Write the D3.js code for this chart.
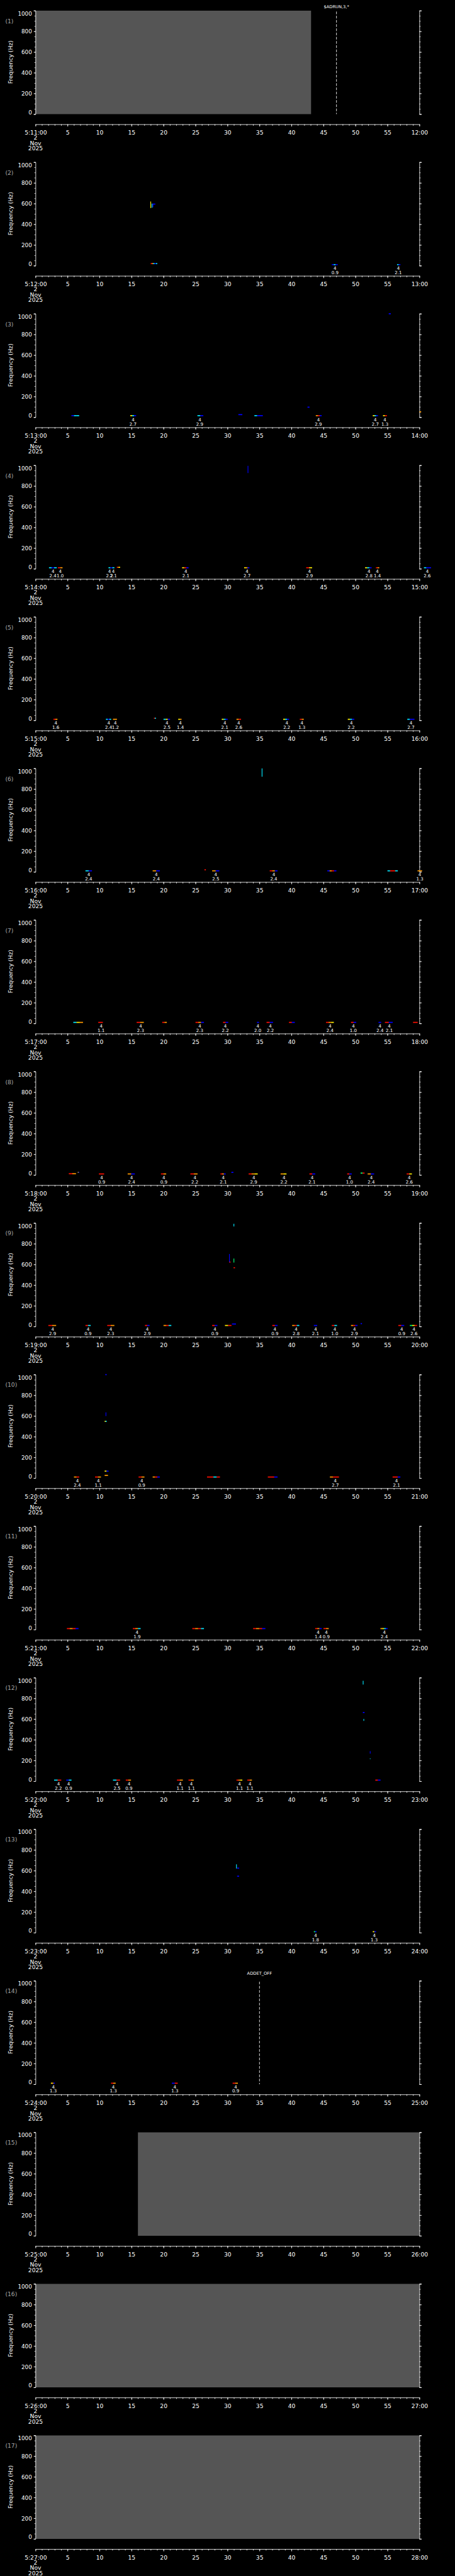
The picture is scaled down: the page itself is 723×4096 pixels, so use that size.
<!DOCTYPE html>
<html>
<head>
<meta charset="utf-8">
<script src="https://cdn.jsdelivr.net/npm/d3@7"></script>
<style>
  body { margin: 0; background: #000; }
  svg { display: block; }
  text { font-family: "DejaVu Sans", sans-serif; fill: #fff; }
</style>
</head>
<body>
<div id="chart"></div>
<script>
// ---- data ----
const startLabels = ["5:11:00","5:12:00","5:13:00","5:14:00","5:15:00","5:16:00","5:17:00","5:18:00","5:19:00",
                     "5:20:00","5:21:00","5:22:00","5:23:00","5:24:00","5:25:00","5:26:00","5:27:00"];
const endLabels = ["12:00","13:00","14:00","15:00","16:00","17:00","18:00","19:00","20:00",
                   "21:00","22:00","23:00","24:00","25:00","26:00","27:00","28:00"];
const xTicks = [0,5,10,15,20,25,30,35,40,45,50,55,60];
const midLabels = ["5","10","15","20","25","30","35","40","45","50","55"];
const yTicks = [0,200,400,600,800,1000];
const dateLines = ["2","Nov","2025"];

// no-data (gray) blocks: panel, from s, to s
const grayBlocks = [[1,0,43.06],[15,16,60],[16,0,60],[17,0,60]];
// event markers: panel, time s, label
const markers = [[1,47.03,"$ADRUN,3,*"],[14,35.0,"ADDET_OFF"]];

// annotations under the detections: panel, time s, top, bottom
const notes = [
  [2,46.8,"4","0.9"],[2,56.7,"4","2.1"],
  [3,15.24,"4","2.7"],[3,25.67,"4","2.9"],[3,44.2,"4","2.9"],[3,53.1,"4","2.7"],[3,54.6,"4","1.3"],
  [4,2.72,"4","2.4"],[4,3.85,"4","1.0"],[4,11.56,"4","2.2"],[4,12.15,"4","2.1"],[4,23.49,"4","2.1"],
  [4,33.06,"4","2.7"],[4,42.81,"4","2.9"],[4,52.11,"4","2.8"],[4,53.42,"4","1.4"],[4,61.22,"4","2.6"],
  [5,3.17,"4","1.6"],[5,11.43,"4","2.4"],[5,12.47,"4","1.2"],[5,20.54,"4","2.5"],[5,22.63,"4","1.4"],
  [5,29.57,"4","2.1"],[5,31.75,"4","2.6"],[5,39.27,"4","2.2"],[5,41.63,"4","1.3"],[5,49.34,"4","2.2"],[5,58.68,"4","2.7"],
  [6,8.30,"4","2.4"],[6,18.87,"4","2.4"],[6,28.16,"4","2.5"],[6,37.23,"4","2.4"],[6,60.05,"4","1.3"],
  [7,10.25,"4","1.1"],[7,16.42,"4","2.3"],[7,25.67,"4","2.3"],[7,29.66,"4","2.2"],[7,34.74,"4","2.0"],
  [7,36.69,"4","2.2"],[7,46.03,"4","2.4"],[7,49.66,"4","1.0"],[7,53.83,"4","2.4"],[7,55.28,"4","2.1"],
  [8,10.34,"4","0.9"],[8,15.01,"4","2.4"],[8,20.05,"4","0.9"],[8,24.90,"4","2.2"],[8,29.34,"4","2.1"],
  [8,34.10,"4","2.9"],[8,38.82,"4","2.2"],[8,43.22,"4","2.1"],[8,49.07,"4","1.0"],[8,52.47,"4","2.4"],[8,58.41,"4","2.6"],
  [9,2.68,"4","2.9"],[9,8.21,"4","0.9"],[9,11.75,"4","2.3"],[9,17.46,"4","2.9"],[9,28.03,"4","0.9"],
  [9,37.41,"4","0.9"],[9,40.73,"4","2.8"],[9,43.76,"4","2.1"],[9,46.76,"4","1.0"],[9,49.84,"4","2.9"],
  [9,57.23,"4","0.9"],[9,59.14,"4","2.6"],
  [10,6.53,"4","2.4"],[10,9.80,"4","1.1"],[10,16.60,"4","0.9"],[10,46.85,"4","2.7"],[10,56.42,"4","2.1"],
  [11,15.87,"4","1.9"],[11,44.17,"4","1.4"],[11,45.44,"4","0.9"],[11,54.51,"4","2.4"],
  [12,3.58,"4","2.2"],[12,5.17,"4","0.9"],[12,12.74,"4","2.5"],[12,14.60,"4","0.9"],
  [12,22.59,"4","1.1"],[12,24.35,"4","1.1"],[12,31.88,"4","1.1"],[12,33.51,"4","1.1"],
  [13,43.76,"4","1.8"],[13,52.93,"4","1.3"],
  [14,2.77,"4","1.3"],[14,12.15,"4","1.3"],[14,21.77,"4","1.3"],[14,31.29,"4","0.9"]
];

// horizontal spectrogram traces: panel, t0, t1, freq Hz, colour codes
const hTraces = [
  [2,18.0,19.0,20,"rocbc"],[2,18.3,18.7,595,"b"],[2,46.3,47.2,10,"bcb"],[2,56.5,57.0,10,"cb"],
  [3,5.6,6.8,15,"bcc"],[3,14.8,15.7,15,"ycb"],[3,25.3,26.2,15,"cb"],[3,31.7,32.3,25,"b"],[3,34.2,35.5,15,"cbb"],
  [3,42.5,42.8,97,"b"],[3,43.8,44.7,15,"orb"],[3,52.7,53.5,15,"ycb"],[3,54.3,54.9,15,"yr"],[3,55.2,55.5,1000,"b"],
  [3,60.0,60.25,52,"o"],
  [4,2.1,3.3,10,"cbc"],[4,3.5,4.2,10,"ro"],[4,11.4,12.3,10,"cbc"],[4,12.7,13.2,14,"roy"],[4,22.9,23.9,10,"yrb"],
  [4,32.6,33.4,10,"yob"],[4,42.3,43.2,10,"ry"],[4,51.5,52.5,10,"ycb"],[4,53.2,53.7,10,"ro"],[4,60.7,61.8,10,"cbb"],
  [5,2.8,3.4,10,"ro"],[5,11.0,11.8,10,"cbc"],[5,12.1,12.7,10,"o"],[5,18.5,18.8,20,"rc"],[5,20.0,21.0,10,"cyb"],
  [5,22.3,22.8,10,"yo"],[5,29.1,30.0,10,"ycb"],[5,31.4,32.1,10,"or"],[5,38.7,39.6,10,"ycb"],[5,41.3,41.9,10,"ro"],
  [5,48.8,49.8,10,"ycb"],[5,58.1,59.2,10,"cbb"],
  [6,7.8,8.8,10,"cb"],[6,18.3,19.4,10,"ob"],[6,26.4,26.6,20,"r"],[6,27.6,28.7,10,"ob"],[6,36.6,37.8,10,"rob"],
  [6,45.6,47.0,10,"borb"],[6,55.0,56.6,10,"crrc"],[6,59.7,60.4,10,"o"],
  [7,5.9,7.4,10,"cyo"],[7,9.8,10.5,10,"r"],[7,15.8,16.9,10,"ro"],[7,19.8,20.5,10,"ro"],[7,25.0,26.3,10,"rob"],
  [7,29.3,30.1,10,"rb"],[7,34.6,34.9,10,"b"],[7,36.1,37.1,10,"rb"],[7,39.6,40.5,10,"rb"],[7,45.4,46.6,10,"roy"],
  [7,49.3,50.1,10,"rb"],[7,53.6,54.0,10,"b"],[7,54.6,55.8,10,"rb"],[7,59.0,59.7,10,"r"],
  [8,5.2,6.3,12,"ro"],[8,6.6,6.8,25,"yb"],[8,9.9,10.7,10,"r"],[8,14.4,15.5,10,"ob"],[8,19.6,20.4,10,"ro"],
  [8,24.2,25.3,10,"ro"],[8,28.9,29.7,10,"rob"],[8,30.6,30.9,25,"b"],[8,33.3,34.7,10,"roy"],[8,38.3,39.2,10,"oy"],
  [8,42.8,43.7,10,"rb"],[8,48.7,49.4,10,"rb"],[8,50.8,51.4,18,"gr"],[8,51.9,52.9,10,"ob"],[8,58.0,58.8,10,"ry"],
  [9,2.0,3.2,10,"ro"],[9,7.8,8.6,10,"rc"],[9,11.2,12.3,10,"ro"],[9,17.1,17.8,10,"rb"],[9,20.0,21.2,10,"orc"],
  [9,27.6,28.4,10,"rb"],[9,29.6,30.6,10,"yr"],[9,30.7,31.3,24,"b"],[9,30.25,30.45,623,"r"],[9,30.95,31.15,568,"r"],
  [9,37.0,37.8,10,"rb"],[9,40.1,41.2,10,"orc"],[9,43.5,44.0,10,"b"],[9,46.3,47.1,10,"rc"],[9,49.3,50.3,10,"orb"],
  [9,50.8,51.0,28,"b"],[9,56.7,57.6,10,"rb"],[9,58.5,59.6,10,"gyr"],
  [10,6.0,6.8,10,"or"],[10,9.3,10.2,10,"ro"],[10,10.8,11.3,26,"o"],[10,10.8,11.4,67,"yb"],[10,10.9,11.1,1000,"b"],
  [10,10.8,11.1,548,"yc"],[10,16.1,17.0,10,"ro"],[10,18.3,19.4,10,"orb"],[10,26.8,28.8,10,"rrcr"],
  [10,36.3,37.8,10,"rrb"],[10,46.0,47.4,10,"orr"],[10,55.8,57.0,10,"rrb"],
  [11,4.9,6.7,10,"rorb"],[11,15.2,16.4,10,"roc"],[11,24.5,26.3,10,"rorc"],[11,34.0,35.9,10,"rorb"],
  [11,43.7,44.7,10,"rob"],[11,45.0,45.8,10,"ro"],[11,53.9,55.0,10,"oycb"],
  [12,2.9,4.0,10,"cr"],[12,4.8,5.6,10,"bc"],[12,12.1,13.2,10,"cr"],[12,14.1,14.9,10,"ro"],[12,22.1,23.0,10,"ro"],
  [12,23.9,24.7,10,"ro"],[12,31.4,32.3,10,"roy"],[12,33.1,33.8,10,"ro"],[12,53.1,53.9,10,"rb"],[12,51.15,51.4,663,"b"],
  [13,43.5,43.9,10,"gb"],[13,52.7,53.2,10,"yb"],[13,31.5,31.8,624,"b"],[13,31.5,31.8,546,"b"],
  [14,2.4,3.0,10,"yob"],[14,11.8,12.5,10,"ro"],[14,21.3,22.2,10,"br"],[14,30.8,31.6,10,"ro"]
];
// vertical traces: panel, t, f0, f1, colour code
const vTraces = [
  [2,18.0,620,557,"y"],[2,18.2,600,560,"c"],[2,18.35,595,565,"b"],
  [4,33.2,995,925,"b"],
  [6,35.4,1000,920,"c"],
  [9,30.3,701,623,"b"],[9,31.0,657,618,"g"],[9,31.0,993,967,"c"],
  [10,11.0,635,599,"b"],
  [12,51.2,970,934,"c"],[12,51.3,601,583,"c"],[12,52.3,290,266,"b"],[12,52.3,219,213,"c"],
  [13,31.4,661,620,"c"]
];
const palette = { b:"#0000ff", c:"#00e8ff", g:"#00ff70", y:"#ffee00", o:"#ff9a00", r:"#ff1000" };

// ---- layout (reference pixels, scaled to the window) ----
const refW = 1024, refH = 5802, nPanels = 17;
const scale = 723 / refW;
const panelH = refH / nPanels;

const svg = d3.select("#chart").append("svg")
  .attr("width", 723).attr("height", 4096);
const root = svg.append("g").attr("transform", "scale(" + scale + ")");

const x = d3.scaleLinear().domain([0, 60]).range([80, 944]);
const y = d3.scaleLinear().domain([0, 1000]).range([257, 24]);

function styleAxis(sel) {
  sel.selectAll("path,line").attr("stroke", "#fff").attr("stroke-width", 1.2);
  sel.selectAll("text").attr("fill", "#fff");
}

const panels = [];
for (let i = 0; i < nPanels; i++) {
  const g = root.append("g").attr("transform", "translate(0," + (i * panelH) + ")");
  panels.push(g);

  // gray no-data blocks go first
  grayBlocks.filter(d => d[0] === i + 1).forEach(d => {
    g.append("rect")
      .attr("x", x(d[1])).attr("y", y(1000))
      .attr("width", x(d[2]) - x(d[1])).attr("height", y(0) - y(1000))
      .attr("fill", "#555555");
  });

  // left axis
  const yl = g.append("g").attr("transform", "translate(" + x(0) + ",0)")
    .call(d3.axisLeft(y).tickValues(yTicks).tickSize(4).tickSizeOuter(4).tickPadding(4)
      .tickFormat(d3.format("d")));
  yl.selectAll("text").style("font-size", "12.5px")
    .attr("dy", d => d === 1000 ? "0.85em" : d === 0 ? "0" : "0.36em");
  styleAxis(yl);
  const ylm = g.append("g").attr("transform", "translate(" + x(0) + ",0)")
    .call(d3.axisLeft(y).tickValues(d3.range(0, 1001, 50)).tickSize(2.5).tickFormat(""));
  ylm.select(".domain").remove();
  styleAxis(ylm);

  // right axis
  const yr = g.append("g").attr("transform", "translate(" + x(60) + ",0)")
    .call(d3.axisRight(y).tickValues(yTicks).tickSize(5).tickSizeOuter(5).tickFormat(""));
  styleAxis(yr);
  const yrm = g.append("g").attr("transform", "translate(" + x(60) + ",0)")
    .call(d3.axisRight(y).tickValues(d3.range(0, 1001, 50)).tickSize(2.5).tickFormat(""));
  yrm.select(".domain").remove();
  styleAxis(yrm);

  // time axis
  const fmt = d => d === 0 ? startLabels[i] : d === 60 ? endLabels[i] : midLabels[d / 5 - 1];
  const xa = g.append("g").attr("transform", "translate(0,280)")
    .call(d3.axisBottom(x).tickValues(xTicks).tickSize(5).tickSizeOuter(0).tickFormat(fmt));
  xa.selectAll("text").style("font-size", "13px").attr("y", 14);
  styleAxis(xa);
  const xam = g.append("g").attr("transform", "translate(0,280)")
    .call(d3.axisBottom(x).tickValues(d3.range(0, 61, 1)).tickSize(3).tickFormat(""));
  xam.select(".domain").remove();
  styleAxis(xam);

  dateLines.forEach((t, k) => {
    g.append("text").attr("x", x(0)).attr("y", 315 + k * 12)
      .attr("text-anchor", "middle").style("font-size", "13px").text(t);
  });

  // labels
  g.append("text").attr("x", 12).attr("y", 52)
    .style("font-size", "13px").style("fill", "#a8a8a8")
    .text("(" + (i + 1) + ")");
  g.append("text")
    .attr("transform", "translate(28,140) rotate(-90)")
    .attr("text-anchor", "middle").style("font-size", "13px")
    .text("Frequency (Hz)");
}

// markers
markers.forEach(([p, t, label]) => {
  const g = panels[p - 1];
  g.append("line").attr("x1", x(t)).attr("x2", x(t))
    .attr("y1", y(1000) + 2).attr("y2", y(0))
    .attr("stroke", "#fff").attr("stroke-width", 1.2).attr("stroke-dasharray", "6,3.5");
  g.append("text").attr("x", x(t)).attr("y", p === 1 ? 19 : 11)
    .attr("text-anchor", "middle").style("font-size", "9.5px").text(label);
});

// spectrogram traces
hTraces.forEach(([p, t0, t1, f, cols]) => {
  const g = panels[p - 1];
  const w = (x(t1) - x(t0)) / cols.length;
  cols.split("").forEach((c, k) => {
    g.append("rect").attr("x", x(t0) + k * w).attr("y", y(f) - 1.2)
      .attr("width", w + 0.3).attr("height", 2.4).attr("fill", palette[c]);
  });
});
vTraces.forEach(([p, t, f0, f1, c]) => {
  panels[p - 1].append("rect").attr("x", x(t) - 0.8).attr("y", y(f0))
    .attr("width", 1.6).attr("height", y(f1) - y(f0)).attr("fill", palette[c]);
});

// annotations
notes.forEach(([p, t, top, bottom]) => {
  const g = panels[p - 1];
  g.append("text").attr("x", x(t)).attr("y", 266.5)
    .attr("text-anchor", "middle").style("font-size", "10px").text(top);
  g.append("text").attr("x", x(t)).attr("y", 276)
    .attr("text-anchor", "middle").style("font-size", "10px").text(bottom);
});
</script>
</body>
</html>
